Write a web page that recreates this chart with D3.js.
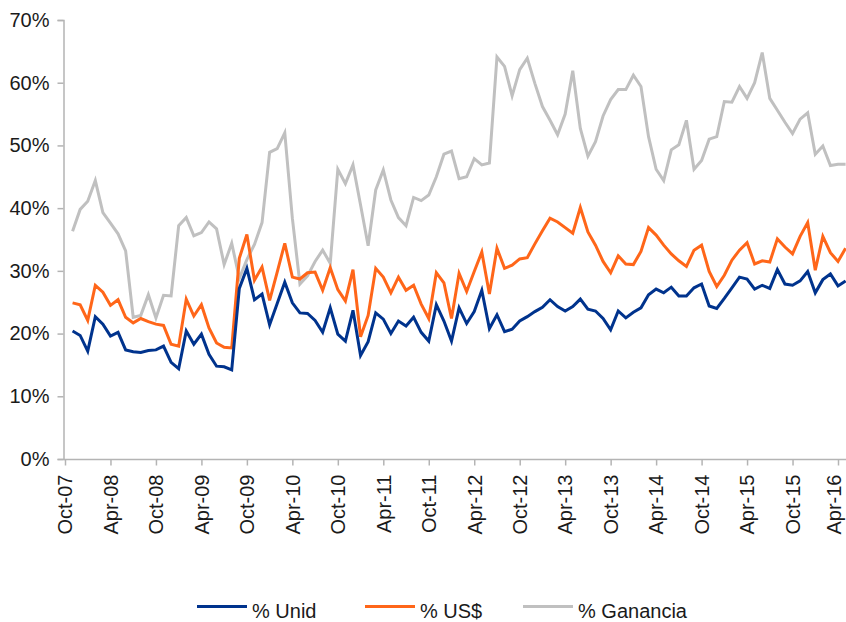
<!DOCTYPE html>
<html>
<head>
<meta charset="utf-8">
<script src="https://cdn.jsdelivr.net/npm/d3@7"></script>
<style>
  html, body { margin: 0; padding: 0; background: #ffffff; }
  svg { display: block; }
  text { font-family: "Liberation Sans", Arial, Helvetica, sans-serif; fill: #1a1a1a; }
</style>
</head>
<body>
<div id="chart"></div>
<script>
// Month index 0 = Oct-07; data runs from Nov-07 (1) to May-16 (103)
const tickLabels = ["Oct-07","Apr-08","Oct-08","Apr-09","Oct-09","Apr-10","Oct-10","Apr-11","Oct-11",
  "Apr-12","Oct-12","Apr-13","Oct-13","Apr-14","Oct-14","Apr-15","Oct-15","Apr-16"];
const yTicks = [0, 10, 20, 30, 40, 50, 60, 70];

const unid = [20.4,19.7,17.2,22.7,21.5,19.6,20.2,17.4,17.1,17.0,17.3,17.4,18.0,15.4,14.4,20.4,18.3,19.9,16.7,14.8,
  14.7,14.2,27.2,30.4,25.4,26.3,21.4,24.8,28.2,24.9,23.3,23.2,22.1,20.2,24.1,19.9,18.8,23.7,16.5,18.7,
  23.3,22.3,20.0,22.0,21.2,22.6,20.2,18.8,24.6,22.0,18.8,24.1,21.6,23.5,26.9,20.8,23.0,20.3,20.7,22.0,
  22.7,23.5,24.2,25.4,24.3,23.6,24.3,25.5,23.9,23.6,22.4,20.6,23.6,22.5,23.4,24.1,26.2,27.1,26.5,27.4,
  26.0,26.0,27.3,27.9,24.4,24.0,25.6,27.3,29.0,28.7,27.1,27.7,27.2,30.2,27.9,27.7,28.4,29.9,26.5,28.6,
  29.5,27.6,28.4];

const usd = [24.9,24.6,22.1,27.7,26.6,24.5,25.4,22.6,21.7,22.4,21.9,21.5,21.3,18.3,18.0,25.5,22.8,24.6,20.9,18.5,
  17.8,17.7,32.0,35.8,28.5,30.6,25.3,29.8,34.4,29.0,28.7,29.7,29.8,26.9,30.5,27.0,25.2,30.2,19.5,22.9,
  30.4,29.0,26.5,29.0,26.9,27.7,24.7,22.4,29.7,28.1,22.4,29.6,26.7,29.9,33.0,26.3,33.6,30.4,30.9,31.9,
  32.1,34.3,36.4,38.4,37.8,36.9,36.0,40.1,36.2,34.1,31.5,29.7,32.4,31.1,31.0,33.1,36.9,35.7,34.1,32.7,
  31.6,30.7,33.3,34.1,29.9,27.5,29.3,31.7,33.3,34.5,31.1,31.6,31.4,35.1,33.8,32.7,35.5,37.7,30.1,35.5,
  32.9,31.5,33.6];

const ganancia = [36.3,39.8,41.1,44.4,39.3,37.6,35.9,33.2,22.6,22.9,26.2,22.5,26.1,26.0,37.2,38.5,35.6,36.1,37.8,36.7,
  31.0,34.4,28.8,31.8,34.2,37.7,48.9,49.5,52.0,38.4,27.9,29.2,31.5,33.3,31.2,46.2,43.9,46.9,40.5,34.0,
  42.9,46.1,41.3,38.5,37.2,41.7,41.2,42.1,45.0,48.6,49.1,44.7,45.0,47.9,46.9,47.2,64.1,62.6,57.9,62.1,
  63.9,59.9,56.2,54.0,51.7,55.0,61.9,52.7,48.3,50.6,54.7,57.3,58.9,58.9,61.2,59.4,51.4,46.2,44.4,49.3,
  50.1,54.0,46.2,47.6,51.0,51.4,57.0,56.9,59.4,57.5,60.0,64.8,57.5,55.6,53.7,51.9,54.2,55.2,48.6,49.9,
  46.8,47.0,47.0];

const seriesNames = ["% Unid", "% US$", "% Ganancia"];
const seriesColors = ["#00338d", "#ff6619", "#c0c0c0"];
const seriesData = [unid, usd, ganancia];

const W = 846, H = 622;
const svg = d3.select("#chart").append("svg").attr("width", W).attr("height", H);

const x = d3.scaleLinear().domain([0, 102]).range([65, 838]);
const y = d3.scaleLinear().domain([0, 70]).range([459, 20]);

const axisColor = "#b4b4b4";
const fontSize = "20px";

// Y axis
const yAxis = svg.append("g").attr("transform", "translate(63.5,0)")
  .call(d3.axisLeft(y).tickValues(yTicks).tickFormat(d => d + "%").tickSize(6).tickPadding(8));
yAxis.select(".domain").attr("stroke", axisColor).attr("stroke-width", 1.5);
yAxis.selectAll(".tick line").attr("stroke", axisColor).attr("stroke-width", 1.5);
yAxis.selectAll(".tick text").style("font-size", fontSize).attr("fill", "#1a1a1a")
  .style("font-family", "'Liberation Sans', Arial, Helvetica, sans-serif");

// X axis
const xTickVals = tickLabels.map((d, i) => i * 6);
const xAxis = svg.append("g").attr("transform", "translate(0,459.5)")
  .call(d3.axisBottom(x).tickValues(xTickVals).tickFormat((d, i) => tickLabels[i]).tickSize(6).tickSizeOuter(0));
xAxis.select(".domain").attr("stroke", axisColor).attr("stroke-width", 1.5)
  .attr("d", "M64,0H846");
xAxis.selectAll(".tick line").attr("stroke", axisColor).attr("stroke-width", 1.5);
xAxis.selectAll(".tick text")
  .style("font-size", fontSize).attr("fill", "#1a1a1a")
  .style("font-family", "'Liberation Sans', Arial, Helvetica, sans-serif")
  .attr("transform", "rotate(-90)")
  .attr("text-anchor", "end")
  .attr("x", -15).attr("y", 0)
  .attr("dy", (d, i) => i === tickLabels.length - 1 ? "0.1em" : "0.34em");

// Lines
const line = d3.line().x((d, i) => x(i + 1)).y(d => y(d));
seriesData.slice().reverse().forEach((arr, k) => {
  const idx = seriesData.length - 1 - k;
  svg.append("path").datum(arr)
    .attr("fill", "none")
    .attr("stroke", seriesColors[idx])
    .attr("stroke-width", 3)
    .attr("stroke-linejoin", "miter")
    .attr("d", line);
});

// Legend
const legendX = [197, 365, 523];
const legend = svg.append("g");
seriesNames.forEach((name, i) => {
  legend.append("line")
    .attr("x1", legendX[i]).attr("x2", legendX[i] + 50)
    .attr("y1", 606.5).attr("y2", 606.5)
    .attr("stroke", seriesColors[i]).attr("stroke-width", 3);
  legend.append("text")
    .attr("x", legendX[i] + 55).attr("y", 618)
    .style("font-size", fontSize)
    .text(name);
});
</script>
</body>
</html>
